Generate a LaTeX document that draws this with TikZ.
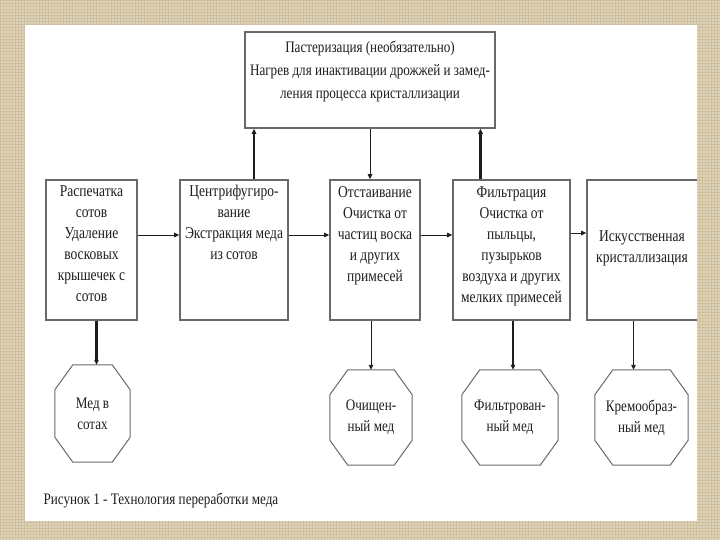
\documentclass[tikz,border=0pt]{standalone}
\usepackage{fontspec}
\newfontfamily\figfont[FakeStretch=0.82]{Liberation Serif}
\usetikzlibrary{positioning, arrows.meta}

\definecolor{paper}{RGB}{224,212,184}
\definecolor{weave}{RGB}{206,192,160}
\definecolor{edge}{RGB}{105,105,105}
\definecolor{ink}{RGB}{30,30,30}

\tikzset{
  stage/.style={draw=edge, line width=1.6pt, fill=white, minimum height=140pt, inner sep=0pt},
  stagetext/.style={font=\figfont\fontsize{16.5}{21}\selectfont, text=ink, align=center, inner sep=0pt},
  product/.style={rectangle, inner sep=0pt, minimum height=95pt,
    font=\figfont\fontsize{16}{21}\selectfont, text=ink, align=center},
  prodline/.style={draw=edge, line width=1pt},
  flow/.style={draw=ink, line width=0.9pt, -{Triangle[length=5pt,width=4.5pt]}},
  bigflow/.style={flow, line width=2.2pt},
}

% octagon drawn round a product node
\newcommand{\octframe}[1]{%
  \draw[prodline] ([xshift=18pt]#1.north west) -- ([xshift=-18pt]#1.north east)
    -- ([yshift=-25pt]#1.north east) -- ([yshift=25pt]#1.south east)
    -- ([xshift=-18pt]#1.south east) -- ([xshift=18pt]#1.south west)
    -- ([yshift=25pt]#1.south west) -- ([yshift=-25pt]#1.north west) -- cycle;}

\begin{document}
\begin{tikzpicture}[x=1pt, y=-1pt]
  \useasboundingbox (0,0) rectangle (720,540);
  % slide frame
  \fill[paper] (0,0) rectangle (720,540);
  \draw[weave, line width=0.4pt, step=3pt] (0,0) grid (720,540);
  \fill[white] (25,25) rectangle (697,521);

  \begin{scope}
    \clip (25,25) rectangle (697,521);

    % stages
    \node[stage, minimum width=250pt, minimum height=96pt] (past) at (370,80) {};
    \node[stagetext, font=\figfont\fontsize{16}{23}\selectfont, below=10pt of past.north] (pasttext)
      {Пастеризация (необязательно)\\Нагрев для инактивации дрожжей и замед-\\ления процесса кристаллизации};

    \node[stage, minimum width=91pt] (uncap) at (91.5,250) {};
    \node[stagetext, below=6pt of uncap.north] (uncaptext)
      {Распечатка\\сотов\\Удаление\\восковых\\крышечек с\\сотов};

    \node[stage, minimum width=108pt] (spin) at (234,250) {};
    \node[stagetext, below=6pt of spin.north] (spintext)
      {Центрифугиро-\\вание\\Экстракция меда\\из сотов};

    \node[stage, minimum width=90pt] (settle) at (375,250) {};
    \node[stagetext, below=7pt of settle.north] (settletext)
      {Отстаивание\\Очистка от\\частиц воска\\и других\\примесей};

    \node[stage, minimum width=117pt] (filter) at (511.5,250) {};
    \node[stagetext, below=7pt of filter.north] (filtertext)
      {Фильтрация\\Очистка от\\пыльцы,\\пузырьков\\воздуха и других\\мелких примесей};

    \node[stage, minimum width=118pt] (cryst) at (646,250) {};
    \node[stagetext] (crysttext) at (642,248) {Искусственная\\кристаллизация};

    % products
    \node[product, minimum width=75pt, minimum height=97pt] (comb) at (92.5,413.5) {Мед в\\сотах};
    \node[product, minimum width=82pt] (clean) at (371,417.5) {Очищен-\\ный мед};
    \node[product, minimum width=96pt] (filtered) at (510,417.5) {Фильтрован-\\ный мед};
    \node[product, minimum width=93pt] (creamed) at (641.5,417.5) {Кремообраз-\\ный мед};
    \octframe{comb}
    \octframe{clean}
    \octframe{filtered}
    \octframe{creamed}

    % main line
    \draw[flow] ([yshift=15pt]uncap.east) -- ([yshift=15pt]uncap.east -| spin.west);
    \draw[flow] ([yshift=15pt]spin.east) -- ([yshift=15pt]spin.east -| settle.west);
    \draw[flow] ([yshift=15pt]settle.east) -- ([yshift=15pt]settle.east -| filter.west);
    \draw[flow] ([yshift=17pt]filter.east) -- ([yshift=17pt]filter.east -| cryst.west);

    % pasteurisation loop
    \draw[bigflow] ([xshift=20pt]spin.north) -- ([xshift=20pt]spin.north |- past.south);
    \draw[flow] (past.south) -- (past.south |- settle.north);
    \draw[bigflow] ([xshift=-31pt]filter.north) -- ([xshift=-31pt]filter.north |- past.south);

    % outputs
    \draw[bigflow] ([xshift=4pt]comb.north |- uncap.south) -- ([xshift=4pt]comb.north);
    \draw[flow] (clean.north |- settle.south) -- (clean.north);
    \draw[bigflow] ([xshift=3pt]filtered.north |- filter.south) -- ([xshift=3pt]filtered.north);
    \draw[flow] ([xshift=-8pt]creamed.north |- cryst.south) -- ([xshift=-8pt]creamed.north);

    \node[font=\figfont\fontsize{16}{20}\selectfont, text=ink, anchor=west] (caption) at (40,500)
      {Рисунок 1 - Технология переработки меда};
  \end{scope}
\end{tikzpicture}
\end{document}
